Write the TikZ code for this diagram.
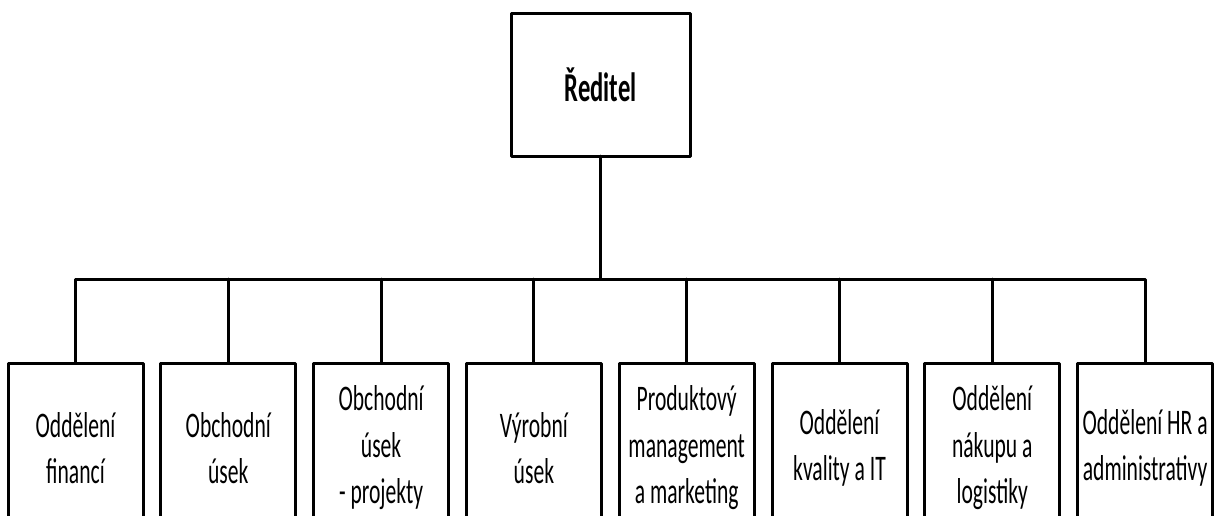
\documentclass[tikz,border=0pt]{standalone}
\usepackage{fontspec}
\setmainfont{Carlito}[FakeStretch=0.6]
\usetikzlibrary{positioning}
\tikzset{
  ceobox/.style={draw,line width=3pt,outer sep=0pt,minimum width=179pt,minimum height=143pt,font=\fontsize{41}{48}\selectfont\bfseries},
  deptbox/.style={draw,line width=3pt,outer sep=0pt,minimum width=135pt,minimum height=170pt,align=center,font=\fontsize{36}{46.5}\selectfont},
  link/.style={line width=3pt}
}
\begin{document}
\begin{tikzpicture}[line cap=round,line join=round,x=1pt,y=-1pt,node distance=17.8pt]
\useasboundingbox (0,0) rectangle (1216,515);
\clip (0,0) rectangle (1216,515);
\node[ceobox] (ceo) at (600.5,84.5) {Ředitel};
\node[deptbox] (fin) at (75.5,448) {Oddělení\\financí};
\node[deptbox,right=of fin] (obch) {Obchodní\\úsek};
\node[deptbox,right=of obch] (proj) {Obchodní\\úsek\\- projekty};
\node[deptbox,right=of proj] (vyr) {Výrobní\\úsek};
\node[deptbox,right=of vyr] (mkt) {Produktový\\management\\a marketing};
\node[deptbox,right=of mkt] (kval) {Oddělení\\kvality a IT};
\node[deptbox,right=of kval] (log) {Oddělení\\nákupu a\\logistiky};
\node[deptbox,right=of log] (hr) {Oddělení HR a\\administrativy};
\coordinate (bus) at (600.5,279);
\draw[link] (ceo) -- (bus);
\draw[link] (fin.north) |- (bus) -| (hr.north);
\draw[link] (obch.north) -- (obch.north |- bus);
\draw[link] (proj.north) -- (proj.north |- bus);
\draw[link] (vyr.north) -- (vyr.north |- bus);
\draw[link] (mkt.north) -- (mkt.north |- bus);
\draw[link] (kval.north) -- (kval.north |- bus);
\draw[link] (log.north) -- (log.north |- bus);
\end{tikzpicture}
\end{document}
